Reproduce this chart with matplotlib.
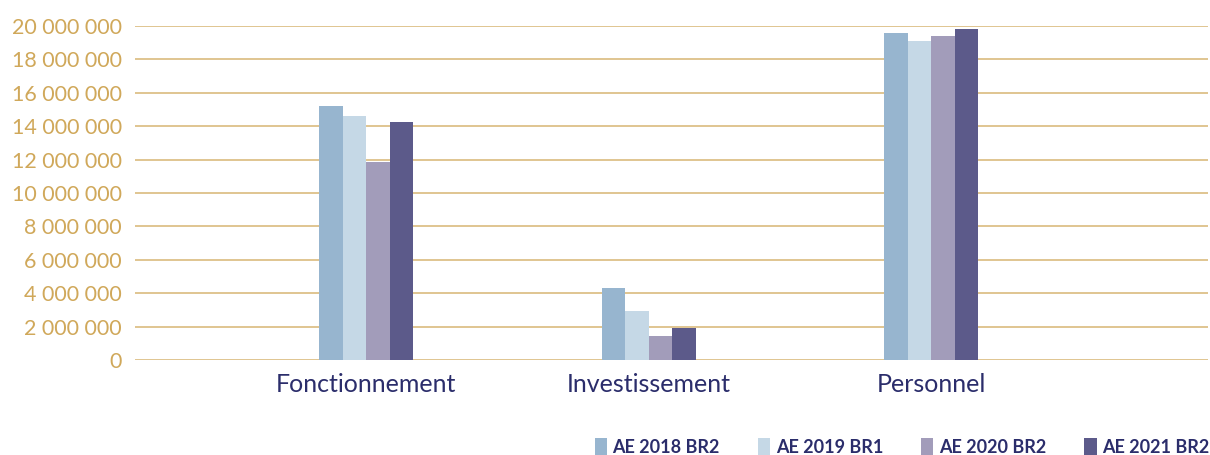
import matplotlib
matplotlib.use("Agg")
import matplotlib.pyplot as plt
import numpy as np
from matplotlib.ticker import FuncFormatter

categories = ["Fonctionnement", "Investissement", "Personnel"]
series_names = ["AE 2018 BR2", "AE 2019 BR1", "AE 2020 BR2", "AE 2021 BR2"]
ae_2018_br2 = [15210000, 4310000, 19580000]
ae_2019_br1 = [14610000, 2930000, 19100000]
ae_2020_br2 = [11860000, 1440000, 19400000]
ae_2021_br2 = [14250000, 1920000, 19820000]
yticks = list(range(0, 20000001, 2000000))

colors = ["#97B5CF", "#C5D8E6", "#A29CBA", "#5C5A8A"]
gold = "#D0A85A"
navy = "#2B2D6B"

plt.rcParams['font.family'] = ['Lato', 'DejaVu Sans']

fig = plt.figure(figsize=(12.1, 4.55), dpi=100)
ax = fig.add_axes([135/1210, 1-360/455, (1208-135)/1210, (360-26)/455])

x = np.arange(len(categories))
w = 0.0833
series = [ae_2018_br2, ae_2019_br1, ae_2020_br2, ae_2021_br2]
for i, (vals, name, c) in enumerate(zip(series, series_names, colors)):
    ax.bar(x + (i - 1.5) * w, vals, width=w, color=c, label=name, zorder=3, linewidth=0)

ax.set_xlim(-0.818, 2.98)
ax.set_ylim(0, 20000000)
ax.set_yticks(yticks)
ax.yaxis.set_major_formatter(FuncFormatter(lambda v, p: f"{int(v):,}".replace(",", " ")))
ax.grid(axis='y', color=gold, linewidth=1.1, alpha=0.85, zorder=0)
ax.set_axisbelow(True)
for s in ax.spines.values():
    s.set_visible(False)
ax.tick_params(axis='y', colors=gold, labelcolor=gold, labelsize=15.5, length=0, pad=9.5)
ax.set_xticks(x)
ax.set_xticklabels(categories)
ax.tick_params(axis='x', length=0, labelsize=18, labelcolor=navy, pad=9)

leg = fig.legend(loc='lower right', bbox_to_anchor=(1226/1210, -0.038), ncol=4, frameon=False,
                 handlelength=0.67, handleheight=1.1, handletextpad=0.33, columnspacing=2.1,
                 prop={'weight': 'bold', 'size': 13})
for t in leg.get_texts():
    t.set_color(navy)

fig.savefig("out.png", dpi=100)
